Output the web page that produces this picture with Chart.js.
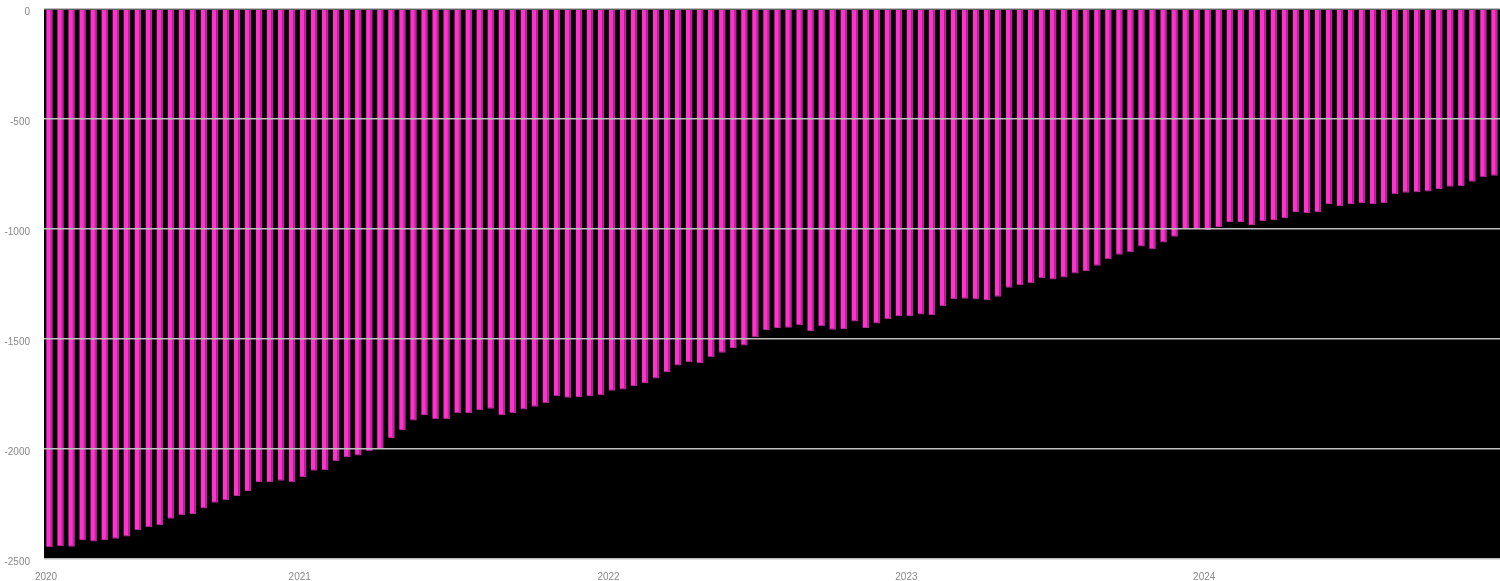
<!DOCTYPE html>
<html>
<head>
<meta charset="utf-8">
<script src="https://cdn.jsdelivr.net/npm/chart.js@4/dist/chart.umd.min.js"></script>
<style>
  html, body { margin: 0; padding: 0; background: #ffffff; overflow: hidden; }
  #wrap { width: 1500px; height: 581px; position: relative; }
</style>
</head>
<body>
<div id="wrap"><canvas id="c" width="1500" height="581"></canvas></div>
<script>
// Tick labels on the x axis (one per year) and how many bars fall in each year
const yearLabels = ['2020', '2021', '2022', '2023', '2024'];
const barsPerYear = [23, 28, 27, 27, 27];

// Series values, split by year
const values2020 = [-2447, -2441, -2444, -2414, -2421, -2414, -2408, -2398, -2368, -2356, -2347, -2317, -2301, -2295, -2270, -2244, -2232, -2214, -2191, -2150, -2150, -2144, -2151];
const values2021 = [-2127, -2099, -2095, -2056, -2036, -2029, -2010, -2000, -1950, -1914, -1870, -1845, -1865, -1865, -1838, -1836, -1824, -1817, -1847, -1838, -1821, -1808, -1792, -1760, -1767, -1764, -1759, -1756];
const values2022 = [-1735, -1730, -1714, -1700, -1679, -1650, -1620, -1606, -1609, -1583, -1562, -1541, -1529, -1492, -1459, -1450, -1449, -1438, -1464, -1442, -1458, -1455, -1420, -1450, -1430, -1410, -1395];
const values2023 = [-1396, -1389, -1391, -1350, -1318, -1317, -1320, -1323, -1308, -1267, -1256, -1247, -1224, -1229, -1220, -1202, -1191, -1167, -1138, -1117, -1106, -1079, -1092, -1061, -1035, -1000, -1000];
const values2024 = [-1005, -991, -968, -968, -982, -964, -959, -950, -923, -927, -923, -886, -895, -886, -882, -886, -882, -842, -835, -833, -830, -818, -808, -805, -785, -765, -758];

// Y axis range / tick step
const yMin = -2500;
const yMax = 0;
const yStep = 500;

// Build category list: each bar carries the year it belongs to
const categories = [];
yearLabels.forEach((y, i) => { for (let k = 0; k < barsPerYear[i]; k++) categories.push(y); });
const values = [].concat(values2020, values2021, values2022, values2023, values2024);

const plotBg = {
  id: 'plotBg',
  beforeDraw(chart) {
    const a = chart.chartArea, ctx = chart.ctx;
    ctx.save();
    ctx.fillStyle = '#000000';
    ctx.fillRect(a.left, a.top, a.right - a.left, a.bottom - a.top);
    ctx.restore();
  }
};

const FONT = "'Liberation Sans', Arial, sans-serif";

function noPad(s) { s.paddingTop = 0; s.paddingBottom = 0; s.paddingLeft = 0; s.paddingRight = 0; }

new Chart(document.getElementById('c'), {
  type: 'bar',
  data: {
    labels: categories,
    datasets: [{
      data: values,
      backgroundColor: '#ff33cc',
      borderColor: '#b8289a',
      borderWidth: { left: 0, right: 2, top: 0, bottom: 1 },
      borderSkipped: false,
      barPercentage: 0.6,
      categoryPercentage: 1.0
    }]
  },
  options: {
    responsive: false,
    animation: false,
    devicePixelRatio: 1,
    layout: { padding: { top: 9, right: 0, bottom: 0, left: 0 } },
    plugins: { legend: { display: false }, tooltip: { enabled: false } },
    scales: {
      x: {
        type: 'category',
        offset: true,
        grid: { display: false, drawTicks: false },
        border: { display: false },
        afterFit(s) { s.height = 22; noPad(s); },
        ticks: {
          autoSkip: false,
          maxRotation: 0,
          minRotation: 0,
          padding: 12,
          labelOffset: -3.5,
          color: '#888888',
          font: { family: FONT, size: 10 },
          callback(v, i) {
            const lbl = categories[i];
            return (i === 0 || categories[i - 1] !== lbl) ? lbl : '';
          }
        }
      },
      y: {
        min: yMin,
        max: yMax,
        afterFit(s) { s.width = 44; noPad(s); },
        grid: { color: '#bdbdbd', lineWidth: 1.5, drawTicks: false, z: 1 },
        border: { display: false },
        ticks: {
          stepSize: yStep,
          padding: 14,
          labelOffset: 3,
          color: '#888888',
          font: { family: FONT, size: 10 },
          callback(v) { return String(v); }
        }
      }
    }
  },
  plugins: [plotBg]
});
</script>
</body>
</html>
